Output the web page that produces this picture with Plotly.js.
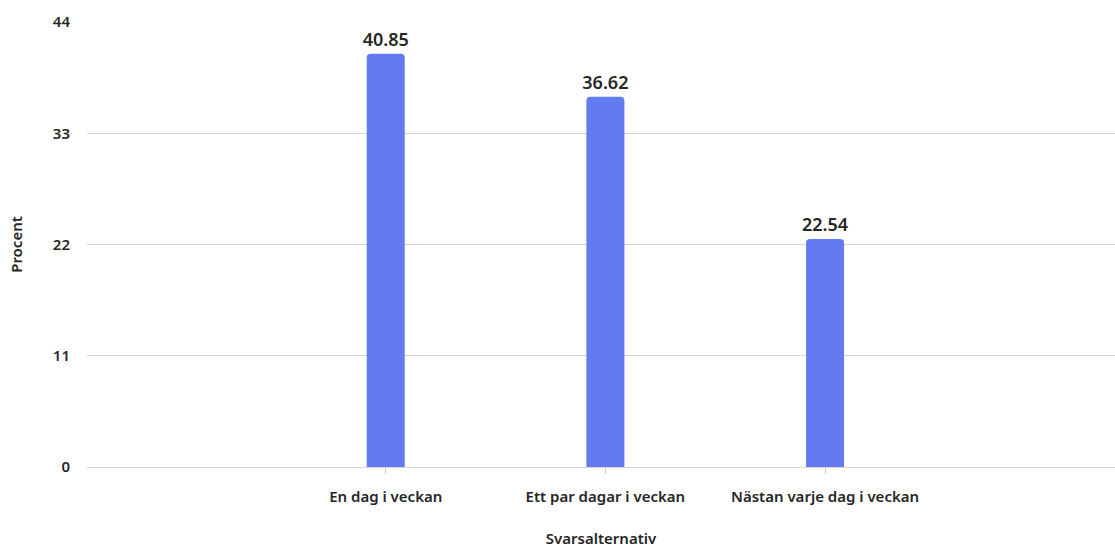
<!DOCTYPE html>
<html>
<head>
<meta charset="utf-8">
<script src="https://cdn.plot.ly/plotly-3.0.1.min.js"></script>
<style>html,body{margin:0;padding:0;background:#fff;}#chart{width:1115px;height:548px;}</style>
</head>
<body>
<div id="chart"></div>
<script>
const categories = ["En dag i veckan", "Ett par dagar i veckan", "Nästan varje dag i veckan"];
const values = [40.85, 36.62, 22.54];
const yTicks = [0, 11, 22, 33, 44];

const trace = {
  type: 'bar',
  x: categories,
  y: values,
  text: values.map(v => v.toFixed(2)),
  textposition: 'outside',
  constraintext: 'none',
  cliponaxis: false,
  textfont: {family: 'Noto Sans', size: 18, weight: 600, color: '#262626'},
  marker: {color: '#637bf0', cornerradius: 4},
  width: 0.173,
  hoverinfo: 'none'
};

const layout = {
  width: 1115, height: 548,
  margin: {l: 87, r: 0, t: 22, b: 81},
  paper_bgcolor: '#fff', plot_bgcolor: '#fff',
  font: {family: 'Noto Sans', color: '#262626', weight: 600},
  showlegend: false,
  xaxis: {
    type: 'category',
    range: [-1.36, 3.32],
    showgrid: false,
    ticks: 'outside', ticklen: 6, tickcolor: '#ccc',
    ticklabelstandoff: 10,
    tickfont: {size: 15, weight: 600, color: '#262626'},
    showline: false,
    zeroline: false,
    title: {text: 'Svarsalternativ', font: {size: 15, weight: 600, color: '#262626'}, standoff: 28}
  },
  yaxis: {
    range: [0, 44],
    tickvals: yTicks,
    ticktext: yTicks.map(String),
    showgrid: true, gridcolor: '#d6d6d6', gridwidth: 1,
    zeroline: true, zerolinecolor: '#d6d6d6', zerolinewidth: 1,
    tickfont: {size: 15, weight: 600, color: '#262626'},
    ticks: '', ticklabelstandoff: 16,
    title: {text: 'Procent', font: {size: 15, weight: 600, color: '#262626'}, standoff: 26}
  }
};

Plotly.newPlot('chart', [trace], layout, {displayModeBar: false, staticPlot: true});
</script>
</body>
</html>
